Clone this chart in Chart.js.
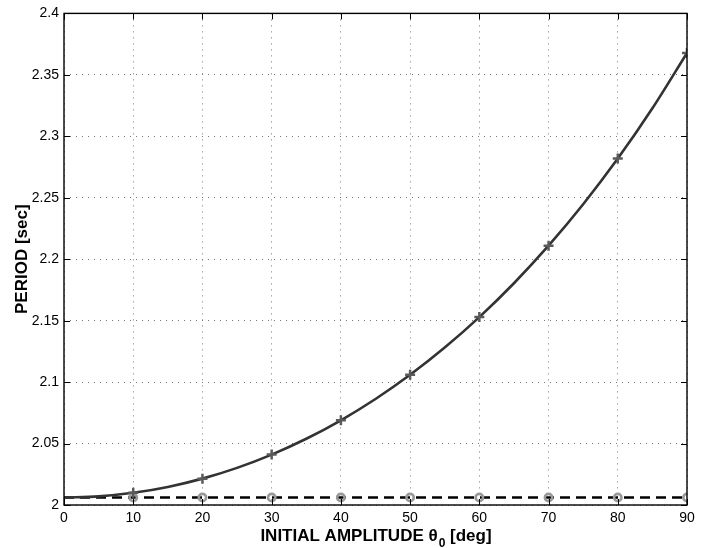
<!DOCTYPE html>
<html>
<head>
<meta charset="utf-8">
<script src="https://cdn.jsdelivr.net/npm/chart.js@4.4.1/dist/chart.umd.min.js"></script>
<style>
  html, body { margin: 0; padding: 0; background: #fff; }
  #wrap { width: 716px; height: 548px; position: relative; }
</style>
</head>
<body>
<div id="wrap"><canvas id="c" width="716" height="548"></canvas></div>
<script>
// ---- data ----
const curveAngles = [0, 5, 10, 15, 20, 25, 30, 35, 40, 45, 50, 55, 60, 65, 70, 75, 80, 85, 90];
const curvePeriods = [2.00607, 2.00703, 2.00990, 2.01470, 2.02146, 2.03021, 2.04100, 2.05388, 2.06894,
                      2.08625, 2.10593, 2.12810, 2.15288, 2.18045, 2.21098, 2.24469, 2.28187, 2.32281, 2.36783];
const markerAngles = [10, 20, 30, 40, 50, 60, 70, 80, 90];
const markerPeriods = [2.00990, 2.02146, 2.04100, 2.06894, 2.10593, 2.15288, 2.21096, 2.28187, 2.36783];
const linearAngles = [0, 90];
const linearPeriods = [2.00607, 2.00607];
const circlePeriods = [2.00607, 2.00607, 2.00607, 2.00607, 2.00607, 2.00607, 2.00607, 2.00607, 2.00607];
const xTickLabels = ['0', '10', '20', '30', '40', '50', '60', '70', '80', '90'];
const yTickLabels = ['2', '2.05', '2.1', '2.15', '2.2', '2.25', '2.3', '2.35', '2.4'];
const xTitle = 'INITIAL AMPLITUDE θ';
const xTitleSub = '0';
const xTitleEnd = ' [deg]';
const yTitle = 'PERIOD [sec]';

const pts = (xs, ys) => xs.map((x, i) => ({ x: x, y: ys[i] }));

const FONT = '"Liberation Sans", Arial, Helvetica, sans-serif';

const framePlugin = {
  id: 'frame',
  afterDraw(chart) {
    const { ctx, chartArea: a, scales } = chart;
    ctx.save();
    ctx.strokeStyle = '#000';
    ctx.lineWidth = 1.4;
    ctx.strokeRect(a.left, a.top, a.right - a.left, a.bottom - a.top);
    const tl = 6;
    ctx.lineWidth = 1;
    ctx.beginPath();
    scales.x.ticks.forEach(t => {
      const px = Math.round(scales.x.getPixelForValue(t.value)) + 0.5;
      ctx.moveTo(px, a.bottom); ctx.lineTo(px, a.bottom - tl);
      ctx.moveTo(px, a.top); ctx.lineTo(px, a.top + tl);
    });
    scales.y.ticks.forEach(t => {
      const py = Math.round(scales.y.getPixelForValue(t.value)) + 0.5;
      ctx.moveTo(a.left, py); ctx.lineTo(a.left + tl, py);
      ctx.moveTo(a.right, py); ctx.lineTo(a.right - tl, py);
    });
    ctx.stroke();

    // axis titles
    ctx.fillStyle = '#000';
    ctx.textBaseline = 'alphabetic';
    const mainFont = 'bold 17px ' + FONT;
    const subFont = 'bold 12px ' + FONT;
    ctx.font = mainFont;
    const w1 = ctx.measureText(xTitle).width;
    const w3 = ctx.measureText(xTitleEnd).width;
    ctx.font = subFont;
    const w2 = ctx.measureText(xTitleSub).width;
    const total = w1 + w2 + w3;
    let x0 = (a.left + a.right) / 2 - total / 2;
    const base = 541;
    ctx.textAlign = 'left';
    ctx.font = mainFont;
    ctx.fillText(xTitle, x0, base);
    ctx.font = subFont;
    ctx.fillText(xTitleSub, x0 + w1 + 1, base + 6);
    ctx.font = mainFont;
    ctx.fillText(xTitleEnd, x0 + w1 + w2 + 1, base);

    ctx.translate(27, (a.top + a.bottom) / 2);
    ctx.rotate(-Math.PI / 2);
    ctx.textAlign = 'center';
    ctx.font = mainFont;
    ctx.fillText(yTitle, 0, 0);
    ctx.restore();
  }
};

new Chart(document.getElementById('c'), {
  type: 'line',
  data: {
    datasets: [
      {
        data: pts(markerAngles, markerPeriods),
        showLine: false,
        pointStyle: 'cross',
        pointRadius: 5,
        pointBorderWidth: 2.5,
        pointBorderColor: '#5a5a5a',
        pointBackgroundColor: '#5a5a5a'
      },
      {
        data: pts(markerAngles, circlePeriods),
        showLine: false,
        pointStyle: 'circle',
        pointRadius: 3.7,
        pointBorderWidth: 2.6,
        pointBorderColor: '#999',
        pointBackgroundColor: 'rgba(0,0,0,0)'
      },
      {
        data: pts(curveAngles, curvePeriods),
        borderColor: '#333',
        borderWidth: 2.6,
        pointRadius: 0,
        cubicInterpolationMode: 'monotone',
        fill: false
      },
      {
        data: pts(linearAngles, linearPeriods),
        borderColor: '#000',
        borderWidth: 2.6,
        borderDash: [10, 6],
        pointRadius: 0,
        fill: false
      }
    ]
  },
  options: {
    responsive: false,
    animation: false,
    devicePixelRatio: 1,
    layout: { padding: { left: 0, top: 13, right: 29, bottom: 0 } },
    plugins: { legend: { display: false }, tooltip: { enabled: false } },
    scales: {
      x: {
        type: 'linear',
        min: 0, max: 90,
        afterFit(s) { s.height = 43; },
        afterBuildTicks(s) { s.ticks = xTickLabels.map(v => ({ value: Number(v) })); },
        ticks: {
          color: '#000',
          font: { family: FONT, size: 14 },
          padding: 5,
          maxRotation: 0,
          callback: (v, i) => xTickLabels[i]
        },
        grid: { color: '#777', lineWidth: 1, drawTicks: false },
        border: { display: false, dash: [1, 5] }
      },
      y: {
        type: 'linear',
        min: 2, max: 2.4,
        afterFit(s) { s.width = 64; },
        afterBuildTicks(s) { s.ticks = yTickLabels.map(v => ({ value: Number(v) })); },
        ticks: {
          color: '#000',
          font: { family: FONT, size: 14 },
          padding: 5,
          callback: (v, i) => yTickLabels[i]
        },
        grid: { color: '#777', lineWidth: 1, drawTicks: false },
        border: { display: false, dash: [1, 5] }
      }
    }
  },
  plugins: [framePlugin]
});
</script>
</body>
</html>
